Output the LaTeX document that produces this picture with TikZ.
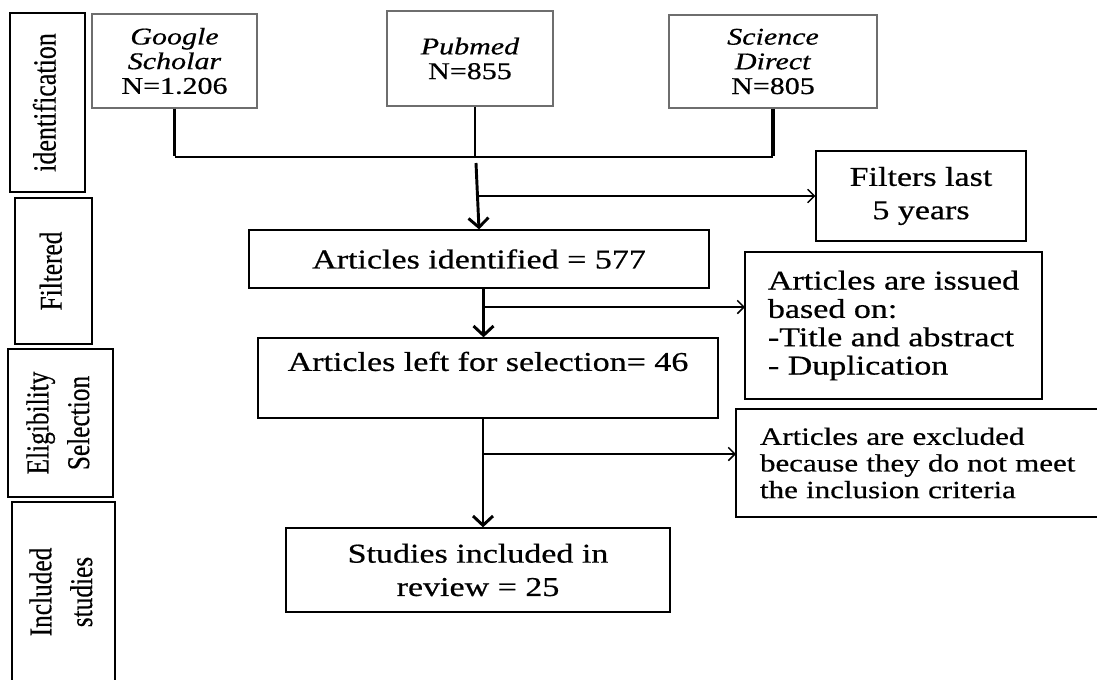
\documentclass[tikz,border=0pt]{standalone}
\usepackage{fontspec}
\setmainfont{Liberation Serif}[FakeStretch=1.25,FakeBold=0.6]
\newfontfamily\sidefont{Liberation Serif}[FakeBold=0.4]
\usetikzlibrary{arrows.meta,calc}

% side label text, widened across the line as in the scan
\newcommand{\vlab}[1]{\scalebox{1}[1.25]{\begin{tabular}{@{}c@{}}#1\end{tabular}}}

\tikzset{every picture/.style={line width=0.75pt}}
\tikzset{
  srcbox/.style={draw={rgb, 255:red, 110; green, 110; blue, 110}, line width=1pt, align=center, inner sep=0pt, font=\fontsize{18}{18.5}\selectfont},
  stepbox/.style={draw, line width=1pt, align=center, inner sep=0pt, font=\fontsize{20.4}{25}\selectfont},
  notebox/.style={draw, line width=1pt, align=left, inner sep=0pt},
  sidebox/.style={draw, line width=1pt, rotate=90, inner sep=0pt, font=\sidefont\fontsize{19}{24.5}\selectfont},
  mainarrow/.style={line width=2.2pt, -{Straight Barb[length=7pt,width=15pt]}},
  sidearrow/.style={line width=1.1pt, -{Straight Barb[length=5pt,width=10pt]}},
}

\begin{document}
\begin{tikzpicture}[x=0.75pt,y=0.75pt,yscale=-1,xscale=1]
\useasboundingbox (0,0) rectangle (1097,679);

% Side labels
\node[sidebox, minimum width=134.25pt, minimum height=56.25pt] (lid) at (47.5,102.5) {\vlab{\fontsize{19.5}{24.5}\selectfont identification}};
\node[sidebox, minimum width=109.5pt, minimum height=57.75pt] (lfilt) at (53.5,271) {\vlab{Filtered}};
\node[sidebox, minimum width=111pt, minimum height=78.75pt] (lelig) at (60.5,423) {\vlab{Eligibility\\Selection}};
\node[sidebox, minimum width=135pt, minimum height=77.25pt] (lincl) at (63.5,592) {\vlab{Included\\studies}};

% Sources
\node[srcbox, minimum width=123.75pt, minimum height=70.5pt] (gs) at (174.5,61) {\textit{Google}\\\textit{Scholar}\\N=1.206};
\node[srcbox, minimum width=124.5pt, minimum height=71.25pt] (pm) at (470,58.5) {\textit{Pubmed}\\N=855};
\node[srcbox, minimum width=156pt, minimum height=69.75pt] (sd) at (773,61.5) {\textit{Science}\\\textit{Direct}\\N=805};

% Steps
\node[stepbox, minimum width=345pt, minimum height=43.5pt] (ident) at (479,259) {Articles identified = 577};
\node[stepbox, minimum width=157.5pt, minimum height=67.5pt] (filt) at (921,196) {Filters last\\5 years};
\node[stepbox, minimum width=345pt, minimum height=60pt] (remain) at (488,378) {Articles left for selection= 46\\ \mbox{}};
\node[notebox, minimum width=222.75pt, minimum height=110.25pt, font=\fontsize{20.4}{21.25}\selectfont] (issued) at (893.5,325.5) {Articles are issued\\based on:\\-Title and abstract\\- Duplication};
\node[notebox, text width=244.5pt, inner xsep=18pt, minimum height=81pt, font=\fontsize{18.6}{20}\selectfont] (excl) at (923,463) {Articles are excluded\\because they do not meet\\the inclusion criteria};
\node[stepbox, minimum width=288pt, minimum height=63pt] (stud) at (478,570) {Studies included in\\review = 25};

% Joining lines
\coordinate (hub) at (475,157);
\draw[line width=1.8pt] (gs.south |- hub) -- (sd.south |- hub);
\draw[line width=2.8pt] (gs.south) -- ([yshift=-0.9pt]gs.south |- hub);
\draw[line width=2.8pt] (sd.south) -- ([yshift=-0.9pt]sd.south |- hub);
\draw[line width=1.1pt] (hub |- pm.south) -- (hub);

% Arrows
\coordinate (a0) at (476,163);
\draw[mainarrow] (a0) -- (ident.north);
\draw[sidearrow] (filt.west -| a0) -- (filt.west);

\coordinate (s2) at ($(ident.south)!0.5!(remain.north)$);
\coordinate (b2) at (745,307);
\draw[mainarrow] (s2 |- ident.south) -- (s2 |- remain.north);
\draw[sidearrow] (b2 -| s2) -- (b2);

\coordinate (s3) at ($(remain.south)!0.5!(stud.north)$);
\coordinate (b3) at (736,454);
\draw[mainarrow] (s3 |- remain.south) -- (s3 |- stud.north);
\draw[sidearrow] (b3 -| s3) -- (b3);

\end{tikzpicture}
\end{document}
